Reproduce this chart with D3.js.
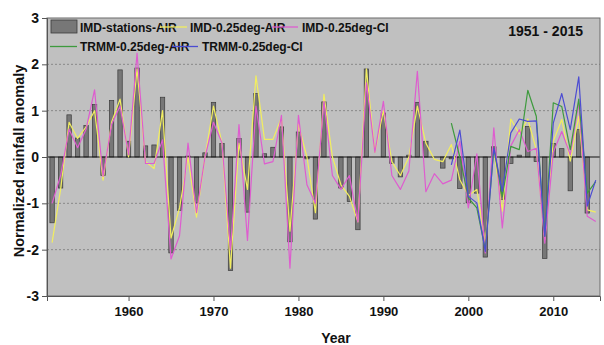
<!DOCTYPE html>
<html><head><meta charset="utf-8">
<script src="https://cdn.jsdelivr.net/npm/d3@7"></script>
<style>
html,body{margin:0;padding:0;background:#fff;}
svg{display:block;}
.nar{font-family:"Liberation Sans Narrow","Arial Narrow","Liberation Sans",Arial,sans-serif;font-weight:bold;fill:#111;}
</style></head><body>
<svg id="c" width="604" height="345"></svg>
<script>
const years = d3.range(1951, 2016);
const stationsAIR = [-1.42,-0.67,0.91,0.41,0.68,1.13,-0.40,1.22,1.88,0.34,1.92,0.24,0.26,1.29,-2.07,-1.15,0.02,-0.99,0.09,1.18,0.29,-2.45,0.40,-1.19,1.37,0.07,0.21,0.65,-1.83,0.54,-0.04,-1.34,1.19,0.0,-0.67,-0.96,-1.57,1.90,0.0,0.95,-0.14,-0.43,0.04,1.18,0.34,0.0,-0.24,-0.04,-0.68,-0.99,-0.78,-2.16,0.22,-0.92,-0.14,0.04,0.66,-0.10,-2.19,0.29,0.18,-0.73,0.59,-1.21,null];
const imd025AIR = [-1.85,-0.7,0.75,0.4,0.65,1.0,-0.5,0.75,1.25,0.0,1.9,-0.1,-0.25,1.0,-1.75,-1.1,0.0,-1.3,0.0,1.1,0.3,-2.4,0.3,-0.7,1.75,0.38,0.38,0.85,-1.6,0.7,0.0,-1.2,1.35,0.0,-0.6,-0.85,-1.4,1.9,0.1,1.0,-0.1,-0.4,0.0,1.1,0.3,-0.05,-0.1,0.27,-0.49,-0.83,-0.7,-1.86,0.16,-1.17,0.82,0.5,0.82,0.16,-1.78,0.34,0.81,-0.09,0.88,-1.14,-1.19];
const imd025CI = [-1.0,-0.4,0.6,0.2,0.6,1.45,-0.42,0.7,1.1,0.05,2.24,-0.14,-0.14,0.37,-2.2,-1.7,0.3,-1.2,0.0,0.75,0.3,-2.0,0.7,-1.8,1.1,-0.15,-0.1,0.9,-2.4,0.9,-0.6,-1.0,1.2,-0.4,-0.7,-0.4,-1.4,1.6,0.1,1.2,-0.4,-0.7,-0.3,1.85,-0.75,-0.36,-0.58,-0.5,0.34,-1.1,0.07,-2.07,0.63,-1.53,0.24,0.59,0.12,0.19,-1.86,0.1,0.55,0.05,1.17,-1.28,-1.39];
const trmmYears = d3.range(1998, 2016);
const trmmAIR = [0.73,0.0,-0.88,-1.1,-2.0,0.19,-0.85,0.23,0.16,1.44,0.88,-1.71,1.17,1.09,0.16,1.25,-0.78,-0.53];
const trmmCI = [-0.17,0.58,-0.85,-0.99,-2.04,0.19,-0.74,0.52,0.82,0.77,0.78,-1.71,0.73,1.37,0.59,1.73,-1.06,-0.5];
const xTicks = [1960,1970,1980,1990,2000,2010];
const yTicks = [-3,-2,-1,0,1,2,3];
const legendItems = ["IMD-stations-AIR","IMD-0.25deg-AIR","IMD-0.25deg-CI","TRMM-0.25deg-AIR","TRMM-0.25deg-CI"];
const periodLabel = "1951 - 2015";

const colors = {yellow:"#f2ee5e", magenta:"#de5ccf", green:"#3d9a3d", blue:"#4c4cd2"};
const svg = d3.select("#c");
const L=47, R=600, T=18, B=296;
const x = d3.scaleLinear().domain([1950.4, 2015.5]).range([L, R]);
const y = d3.scaleLinear().domain([-3, 3]).range([B, T]);

svg.append("rect").attr("x",L).attr("y",T).attr("width",R-L).attr("height",B-T).attr("fill","#c0c0c0");
// gridlines
svg.append("g").selectAll("line").data(yTicks.filter(v=>v!==0 && Math.abs(v)<3)).join("line")
  .attr("x1",L).attr("x2",R).attr("y1",d=>y(d)).attr("y2",d=>y(d))
  .attr("stroke","#7a7a7a").attr("stroke-width",0.8).attr("stroke-dasharray","2,2");

// bars
const bw = 4.4;
svg.append("g").selectAll("rect").data(years.map((yr,i)=>({yr,v:stationsAIR[i]})).filter(d=>d.v!==null)).join("rect")
  .attr("x",d=>x(d.yr)-bw/2).attr("width",bw)
  .attr("y",d=>y(Math.max(0,d.v))).attr("height",d=>Math.abs(y(d.v)-y(0)))
  .attr("fill","#777").attr("stroke","#3a3a3a").attr("stroke-width",0.7);

// zero line
svg.append("line").attr("x1",L).attr("x2",R).attr("y1",y(0)).attr("y2",y(0)).attr("stroke","#111").attr("stroke-width",1.1);

const line = d3.line().x(d=>x(d[0])).y(d=>y(d[1]));
function drawLine(yrs, vals, col){
  svg.append("path").datum(yrs.map((yr,i)=>[yr,vals[i]])).attr("d",line)
    .attr("fill","none").attr("stroke",col).attr("stroke-width",1.2).attr("stroke-linejoin","round");
}
drawLine(years, imd025AIR, colors.yellow);
drawLine(years, imd025CI, colors.magenta);
drawLine(trmmYears, trmmAIR, colors.green);
drawLine(trmmYears, trmmCI, colors.blue);

// frame
svg.append("rect").attr("x",L).attr("y",T).attr("width",R-L).attr("height",B-T).attr("fill","none").attr("stroke","#6a6a6a").attr("stroke-width",1);

// axes
const xAxis = d3.axisBottom(x).tickValues(xTicks).tickFormat(d3.format("d")).tickSize(5).tickPadding(6);
const gx = svg.append("g").attr("transform",`translate(0,${B})`).call(xAxis);
gx.select(".domain").attr("stroke","#555");
gx.selectAll(".tick line").attr("stroke","#555");
gx.selectAll("text").attr("class","nar").attr("font-size",13);

const yAxis = d3.axisLeft(y).tickValues(yTicks).tickFormat(d => String(d)).tickSize(5).tickPadding(3);
const gy = svg.append("g").attr("transform",`translate(${L},0)`).call(yAxis);
gy.select(".domain").attr("stroke","#555");
gy.selectAll(".tick line").attr("stroke","#555");
gy.selectAll("text").attr("class","nar").attr("font-size",14);
svg.selectAll("g[font-family]").attr("font-family",null);

// axis titles
svg.append("text").attr("class","nar").attr("x",336).attr("y",343).attr("text-anchor","middle").attr("font-size",14).text("Year");
svg.append("text").attr("transform","translate(24,161) rotate(-90)").attr("text-anchor","middle")
  .attr("font-family","'Liberation Sans',Arial,sans-serif").attr("font-weight","bold").attr("font-size",14.5).attr("fill","#111")
  .text("Normalized rainfall anomaly");

// period label
svg.append("text").attr("class","nar").attr("x",583).attr("y",36).attr("text-anchor","end").attr("font-size",14).text(periodLabel);

// legend
const lg = svg.append("g");
lg.append("rect").attr("x",51).attr("y",20).attr("width",26).attr("height",13).attr("fill","#777").attr("stroke","#3a3a3a").attr("stroke-width",0.8);
const legendPos = [
  {tx:80, ty:31.5},
  {lx1:160,lx2:187, ly:27, tx:190, ty:31.5, col:colors.yellow},
  {lx1:272,lx2:298, ly:27, tx:302, ty:31.5, col:colors.magenta},
  {lx1:50,lx2:77, ly:46.5, tx:80, ty:51, col:colors.green},
  {lx1:172,lx2:198, ly:46.5, tx:202, ty:51, col:colors.blue}
];
legendItems.forEach((t,i)=>{
  const p = legendPos[i];
  if(p.col) lg.append("line").attr("x1",p.lx1).attr("x2",p.lx2).attr("y1",p.ly).attr("y2",p.ly).attr("stroke",p.col).attr("stroke-width",1.3);
  lg.append("text").attr("class","nar").attr("x",p.tx).attr("y",p.ty).attr("font-size",12).text(t);
});
</script></body></html>
